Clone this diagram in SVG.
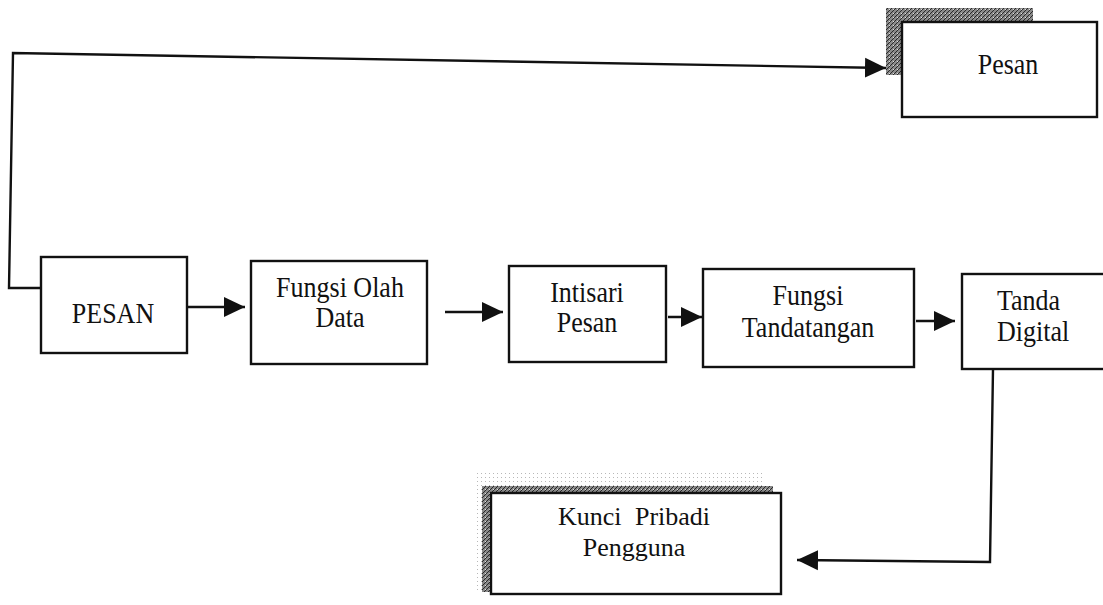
<svg xmlns="http://www.w3.org/2000/svg" width="1103" height="605" viewBox="0 0 1103 605">
<style>
.box{fill:#fff;stroke:#111;stroke-width:2.4}
.lbl{font-family:"Liberation Serif","Times New Roman",serif;font-size:26px;fill:#111;text-anchor:middle}
.conn{fill:none;stroke:#111;stroke-width:2.4}
</style>
<defs>
<marker id="arr" markerUnits="userSpaceOnUse" markerWidth="22" markerHeight="22" refX="21" refY="10" orient="auto" viewBox="0 0 22 20">
<path d="M0,0 L21,10 L0,20 Z" fill="#111"/>
</marker>
<pattern id="hatch" width="4" height="4" patternUnits="userSpaceOnUse">
<rect width="4" height="4" fill="#8a8a8a"/>
<path d="M0,4 L4,0" stroke="#2a2a2a" stroke-width="1"/>
<rect x="1" y="1" width="1" height="1" fill="#e0e0e0"/>
</pattern>
<pattern id="dots" width="4" height="4" patternUnits="userSpaceOnUse">
<rect width="4" height="4" fill="#fff"/>
<rect x="1" y="1" width="1" height="1" fill="#b8b8b8"/>
</pattern>
</defs>
<rect width="1103" height="605" fill="#fff"/>

<g id="connectors">
<path class="conn" d="M41,288 L9,288 L13,53 L886,68" marker-end="url(#arr)"/>
<path class="conn" d="M187,307 L245,307" marker-end="url(#arr)"/>
<path class="conn" d="M445,312 L503,312" marker-end="url(#arr)"/>
<path class="conn" d="M668,317 L702,317" marker-end="url(#arr)"/>
<path class="conn" d="M916,321 L955,321" marker-end="url(#arr)"/>
<path class="conn" d="M993,369 L990,562 L797,560" marker-end="url(#arr)"/>
</g>

<g id="node-pesan-top">
<rect x="886" y="8" width="147" height="67" fill="url(#hatch)"/>
<rect class="box" x="902" y="22" width="195" height="95"/>
<text class="lbl" transform="translate(1008 74) scale(1 1.12)">Pesan</text>
</g>

<g id="node-pesan">
<rect class="box" x="41" y="257" width="146" height="96"/>
<text class="lbl" transform="translate(113 323) scale(1 1.12)">PESAN</text>
</g>

<g id="node-fungsi-olah">
<rect class="box" x="251" y="261" width="176" height="103"/>
<text class="lbl" transform="translate(340 297) scale(1 1.12)">Fungsi Olah</text>
<text class="lbl" transform="translate(340 327) scale(1 1.12)">Data</text>
</g>

<g id="node-intisari">
<rect class="box" x="509" y="266" width="157" height="96"/>
<text class="lbl" transform="translate(587 302) scale(1 1.12)">Intisari</text>
<text class="lbl" transform="translate(587 332) scale(1 1.12)">Pesan</text>
</g>

<g id="node-fungsi-ttd">
<rect class="box" x="703" y="269" width="211" height="98"/>
<text class="lbl" transform="translate(808 305) scale(1 1.12)">Fungsi</text>
<text class="lbl" transform="translate(808 337) scale(1 1.12)">Tandatangan</text>
</g>

<g id="node-tanda-digital">
<rect class="box" x="962" y="274" width="170" height="95"/>
<text class="lbl" transform="translate(997 310) scale(1 1.12)" style="text-anchor:start">Tanda</text>
<text class="lbl" transform="translate(997 341) scale(1 1.12)" style="text-anchor:start">Digital</text>
</g>

<g id="node-kunci">
<rect x="475" y="472" width="288" height="118" fill="url(#dots)"/>
<rect x="482" y="486" width="291" height="106" fill="url(#hatch)"/>
<rect class="box" x="491" y="493" width="290" height="101"/>
<text class="lbl" x="634" y="525" word-spacing="7">Kunci Pribadi</text>
<text class="lbl" x="634" y="556">Pengguna</text>
</g>
</svg>
